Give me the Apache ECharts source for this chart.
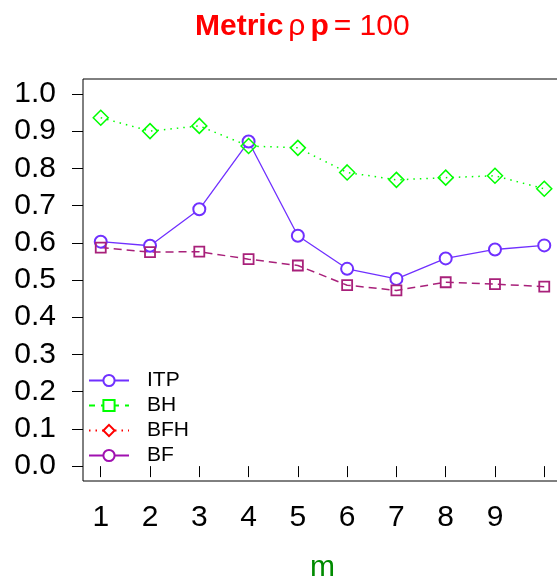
<!DOCTYPE html>
<html>
<head>
<meta charset="utf-8">
<script src="https://cdn.jsdelivr.net/npm/echarts@6/dist/echarts.min.js"></script>
<style>html,body{margin:0;padding:0;background:#fff;}#c{width:557px;height:582px;}</style>
</head>
<body>
<div id="c"></div>
<script>
var mValues = [1, 2, 3, 4, 5, 6, 7, 8, 9, 10];
var xTickLabels = [1, 2, 3, 4, 5, 6, 7, 8, 9];
var yTicks = [0, 0.1, 0.2, 0.3, 0.4, 0.5, 0.6, 0.7, 0.8, 0.9, 1.0];
var itpValues = [0.603, 0.592, 0.690, 0.872, 0.619, 0.530, 0.503, 0.558, 0.582, 0.593];
var greenValues = [0.936, 0.900, 0.914, 0.860, 0.855, 0.789, 0.769, 0.775, 0.780, 0.745];
var maroonValues = [0.587, 0.575, 0.576, 0.556, 0.539, 0.486, 0.472, 0.494, 0.489, 0.482];
var legendNames = ['ITP', 'BH', 'BFH', 'BF'];

function pairs(vals) { return mValues.map(function (m, i) { return [m, vals[i]]; }); }

var FONT = 'Liberation Sans';
var chart = echarts.init(document.getElementById('c'), null, {renderer: 'canvas'});
chart.setOption({
  animation: false,
  backgroundColor: '#fff',
  title: {
    text: '{b|Metric} {n|ρ} {b|p} {n|= 100}',
    left: 190, top: 7,
    textStyle: {
      rich: {
        b: {fontFamily: FONT, fontWeight: 'bold', fontSize: 30, color: '#ff0000'},
        n: {fontFamily: FONT, fontWeight: 'normal', fontSize: 30, color: '#ff0000'}
      }
    }
  },
  grid: {left: 83, top: 79, right: -5, bottom: 101, show: true, borderColor: '#000', borderWidth: 1,
    backgroundColor: 'transparent', containLabel: false, outerBoundsMode: 'none'},
  legend: {
    data: legendNames,
    orient: 'vertical', left: 88, top: 370, padding: 0,
    itemWidth: 40, itemHeight: 14, itemGap: 4,
    textStyle: {fontFamily: FONT, fontSize: 21, color: '#000', padding: [0, 0, 0, 13]},
    selectedMode: false
  },
  xAxis: {
    type: 'value', min: 0.64, max: 10.36,
    name: 'm', nameLocation: 'middle', nameGap: 72,
    nameTextStyle: {fontFamily: FONT, fontSize: 30, color: '#008B00'},
    axisLine: {show: false},
    splitLine: {show: false},
    axisTick: {show: true, inside: false, length: 11, customValues: mValues, lineStyle: {color: '#000', width: 1}},
    axisLabel: {customValues: xTickLabels, fontFamily: FONT, fontSize: 30, color: '#000', margin: 22}
  },
  yAxis: {
    type: 'value', min: -0.04, max: 1.04,
    axisLine: {show: false},
    splitLine: {show: false},
    axisTick: {show: true, inside: false, length: 11, customValues: yTicks, lineStyle: {color: '#000', width: 1}},
    axisLabel: {customValues: yTicks, fontFamily: FONT, fontSize: 30, color: '#000', margin: 27,
      formatter: function (v) { return v.toFixed(1); }}
  },
  series: [
    {name: 'ITP', type: 'line', data: pairs(itpValues), symbol: 'emptyCircle', symbolSize: 12,
      color: '#7030FF', lineStyle: {color: '#7030FF', width: 1.3, type: 'solid'},
      itemStyle: {color: '#7030FF', borderWidth: 1.5}},
    {name: 'BH', type: 'line', data: [], symbol: 'rect', symbolSize: 11,
      color: '#00ff00', lineStyle: {color: '#00ff00', width: 1.5, type: [6, 6]},
      itemStyle: {color: '#fff', borderColor: '#00ff00', borderWidth: 1.5}},
    {name: 'BFH', type: 'line', data: [], symbol: 'diamond', symbolSize: 14,
      color: '#ff0000', lineStyle: {color: '#ff0000', width: 1.5, type: [1.5, 5]},
      itemStyle: {color: '#fff', borderColor: '#ff0000', borderWidth: 1.5}},
    {name: 'BF', type: 'line', data: [], symbol: 'emptyCircle', symbolSize: 12,
      color: '#A010B0', lineStyle: {color: '#A010B0', width: 1.3, type: 'solid'},
      itemStyle: {color: '#A010B0', borderWidth: 1.5}},
    {name: 'BH values', type: 'line', data: pairs(greenValues), symbol: 'diamond', symbolSize: 15,
      lineStyle: {color: '#00ff00', width: 1.5, type: [1.5, 5]},
      itemStyle: {color: 'rgba(255,255,255,0)', borderColor: '#00ff00', borderWidth: 1.5}},
    {name: 'BF values', type: 'line', data: pairs(maroonValues), symbol: 'rect', symbolSize: 10,
      lineStyle: {color: '#A8207A', width: 1.5, type: [8, 5]},
      itemStyle: {color: 'rgba(255,255,255,0)', borderColor: '#A8207A', borderWidth: 1.8}}
  ]
});
</script>
</body>
</html>
